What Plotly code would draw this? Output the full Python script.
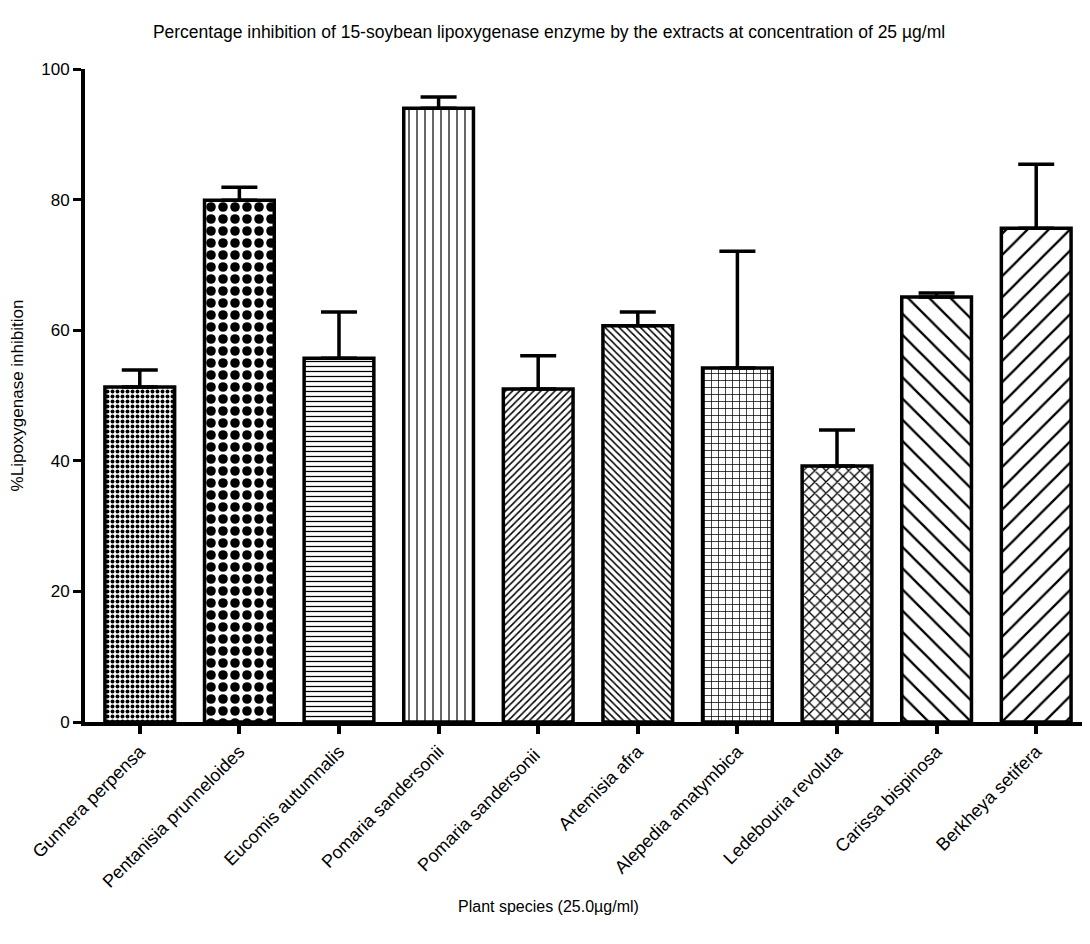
import plotly.graph_objects as go

species = ["Gunnera perpensa", "Pentanisia prunneloides", "Eucomis autumnalis",
           "Pomaria sandersonii", "Pomaria sandersonii ", "Artemisia afra",
           "Alepedia amatymbica", "Ledebouria revoluta", "Carissa bispinosa",
           "Berkheya setifera"]
inhibition = [51.3, 79.9, 55.7, 94.0, 51.0, 60.7, 54.2, 39.2, 65.1, 75.6]
error_up = [2.6, 2.0, 7.1, 1.7, 5.1, 2.1, 17.9, 5.5, 0.6, 9.8]

pattern_shapes = [".", ".", "-", "|", "/", "\\", "+", "x", "\\", "/"]
pattern_sizes = [5, 12, 5, 8, 5, 5, 7, 8, 15, 15]
pattern_solid = [0.5, 0.5, 0.25, 0.15, 0.3, 0.3, 0.2, 0.3, 0.15, 0.15]

FONT = "Liberation Sans Narrow, Arial Narrow, Liberation Sans, Arial, sans-serif"

fig = go.Figure()
fig.add_trace(go.Bar(
    x=species,
    y=inhibition,
    marker=dict(
        color="white",
        line=dict(color="black", width=3.5),
        pattern=dict(shape=pattern_shapes, size=pattern_sizes, solidity=pattern_solid,
                     fgcolor="black", bgcolor="white", fgopacity=1, fillmode="overlay"),
    ),
    error_y=dict(type="data", array=error_up, arrayminus=[0] * len(error_up),
                 symmetric=False, color="black", thickness=3.5, width=18),
    width=0.7,
    cliponaxis=False,
))

fig.add_annotation(
    text="Plant species (25.0µg/ml)",
    xref="paper", yref="paper", x=0.4626, y=-0.283,
    xanchor="center", yanchor="middle", showarrow=False,
    font=dict(family=FONT, size=16, color="black"),
)

fig.update_layout(
    width=1082, height=936,
    margin=dict(l=77, r=2, t=61, b=222),
    paper_bgcolor="white", plot_bgcolor="white",
    font=dict(family=FONT, size=17, color="black"),
    showlegend=False,
    title=dict(text="Percentage inhibition of 15-soybean lipoxygenase enzyme by the extracts at concentration of 25 µg/ml",
               x=0.5, xanchor="center", y=0.974, yanchor="middle",
               font=dict(family=FONT, size=17.5, color="black")),
    xaxis=dict(
        type="category", range=[-0.55, 9.52],
        showline=True, linecolor="black", linewidth=4,
        ticks="outside", ticklen=8, tickwidth=4, tickcolor="black",
        tickangle=-45, tickfont=dict(family=FONT, size=18),
        showgrid=False, zeroline=False,
    ),
    yaxis=dict(
        range=[0, 100], tickvals=[0, 20, 40, 60, 80, 100],
        showline=True, linecolor="black", linewidth=4,
        ticks="outside", ticklen=8, tickwidth=3, tickcolor="black",
        tickfont=dict(family=FONT, size=17),
        showgrid=False, zeroline=False,
        title=dict(text="%Lipoxygenase inhibition", standoff=18,
                   font=dict(family=FONT, size=17)),
    ),
)

fig.write_html("out.html")
